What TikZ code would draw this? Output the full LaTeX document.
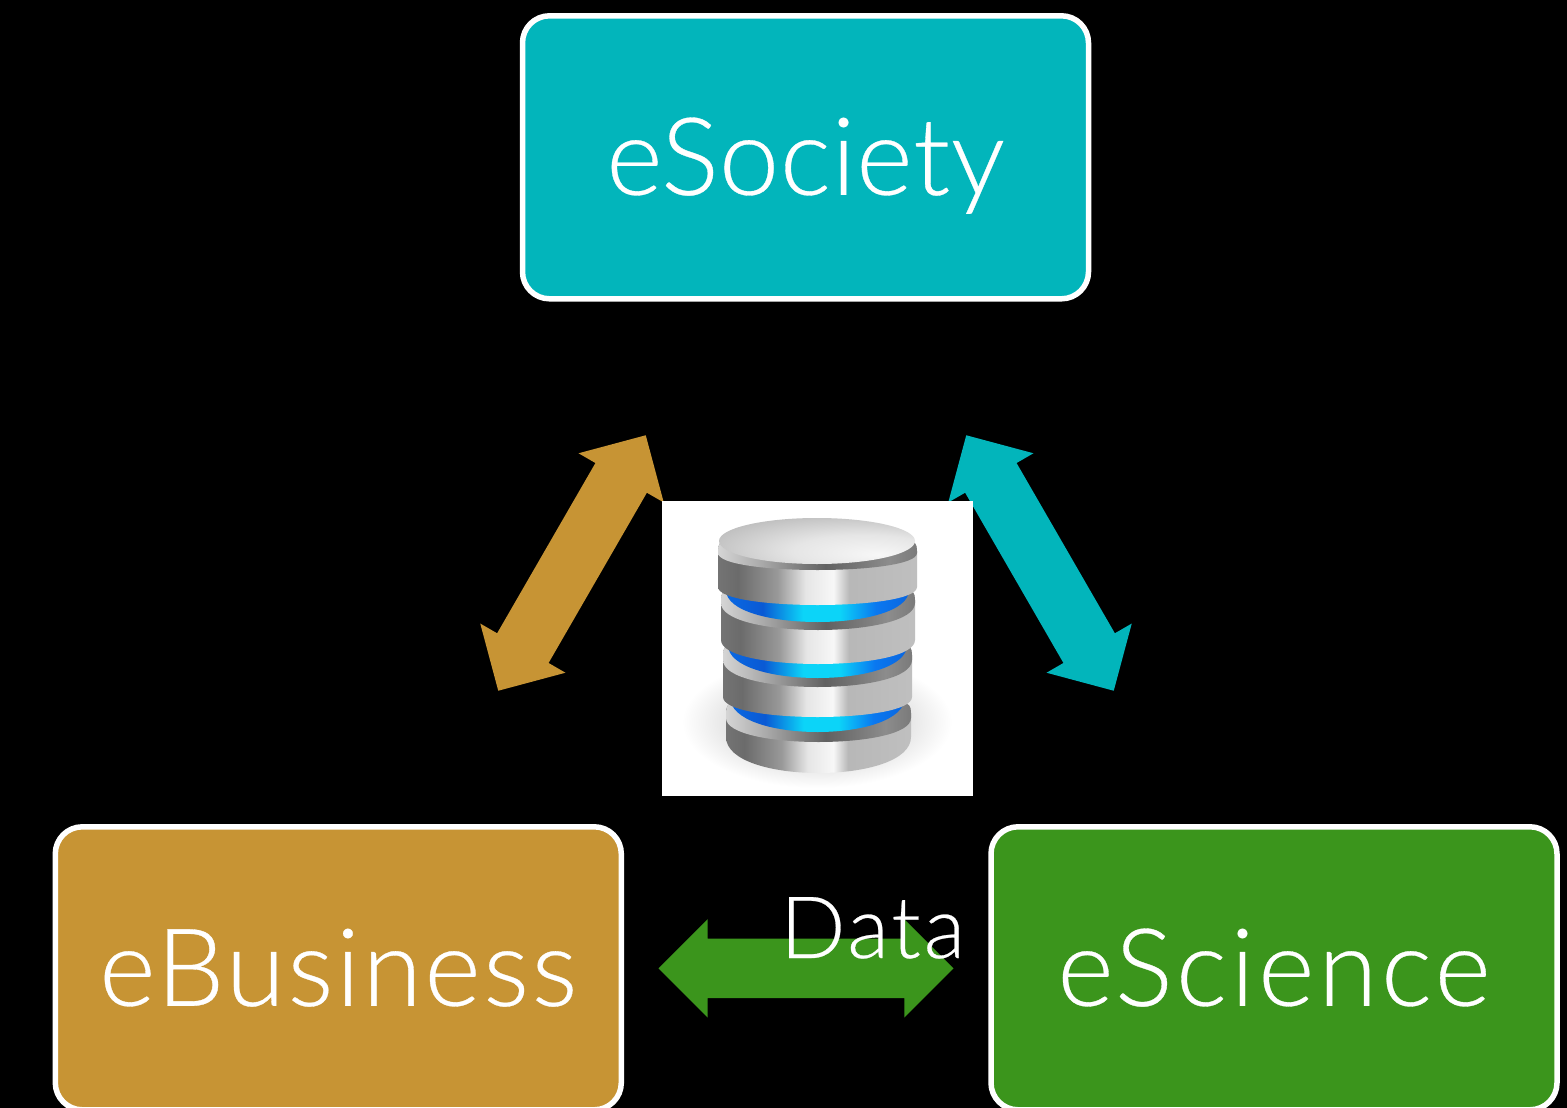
\documentclass[tikz,border=0pt]{standalone}
\usepackage{fontspec}
\setmainfont{Lato}[UprightFont=* Light,FakeBold=0.3]
\usetikzlibrary{shapes.arrows}
\definecolor{cteal}{HTML}{02B5BB}
\definecolor{cgold}{HTML}{C79434}
\definecolor{cgreen}{HTML}{3B951C}
\definecolor{ringdark}{HTML}{0A4CC8}
\definecolor{ringmid}{HTML}{0A78F0}
\definecolor{ringglow}{HTML}{0CD4F8}
\pgfdeclarehorizontalshading{metal}{100bp}{
  color(0bp)=(black!35); color(5bp)=(black!42); color(18bp)=(black!50); color(30bp)=(black!58);
  color(40bp)=(black!40); color(47bp)=(black!10); color(54bp)=(black!3); color(58bp)=(black!28);
  color(75bp)=(black!25); color(88bp)=(black!45); color(96bp)=(black!68); color(100bp)=(black!55)}
\pgfdeclarehorizontalshading{rimmetal}{100bp}{
  color(0bp)=(black!45); color(8bp)=(black!25); color(22bp)=(black!12); color(35bp)=(black!32);
  color(52bp)=(black!62); color(68bp)=(black!45); color(85bp)=(black!62); color(100bp)=(black!75)}
\pgfdeclarehorizontalshading{bluering}{100bp}{
  color(0bp)=(ringdark); color(15bp)=(ringmid); color(35bp)=(ringdark!70!ringmid);
  color(46bp)=(ringglow); color(56bp)=(ringglow); color(66bp)=(ringmid); color(88bp)=(ringdark); color(100bp)=(ringdark!80!black)}
\pgfdeclareradialshading{discglow}{\pgfpoint{16bp}{-15bp}}{
  color(0bp)=(black!3); color(18bp)=(black!10); color(40bp)=(black!28); color(70bp)=(black!40)}
% one slab: xl xr ytop yside depth, top corners rounded, lower edge a half ellipse
\newcommand{\dbslab}[6]{%
  \shade[shading=#1] ({#2+9},#4) .. controls ({#2+2},#4) and (#2,{#4+3}) .. (#2,{#4+10}) -- (#2,#5)
    .. controls (#2,{#5+4/3*#6}) and (#3,{#5+4/3*#6}) .. (#3,#5) -- (#3,{#4+10})
    .. controls (#3,{#4+3}) and ({#3-2},#4) .. ({#3-9},#4) -- cycle;
}
% xl xr ytop yrimside rimdepth ysidebottom bottomdepth
\newcommand{\dbdisc}[7]{%
  \dbslab{metal}{#1}{#2}{#3}{#6}{#7}
  \dbslab{rimmetal}{#1}{#2}{#3}{#4}{#5}
}
% xl xr ytop ybottom depth
\newcommand{\dbring}[5]{%
  \shade[shading=bluering] (#1,#3) -- (#1,#4) .. controls (#1,{#4+4/3*#5}) and (#2,{#4+4/3*#5}) .. (#2,#4) -- (#2,#3) -- cycle;
}
\tikzset{
  areabox/.style={draw=white,line width=5.5pt,rounded corners=27pt,minimum width=566pt,minimum height=283pt,
    inner sep=0pt,text=white,font=\fontsize{108}{108}\selectfont,text height=75pt,text depth=0pt},
  blockarrow/.style={shape=double arrow,draw=none,inner sep=0pt,outer sep=0pt,text height=59pt,text depth=0pt,
    minimum height=295pt,double arrow head extend=19.5pt,double arrow head indent=0pt},
}
\begin{document}
\begin{tikzpicture}[x=1pt,y=-1pt]
\useasboundingbox (0,0) rectangle (1567,1108);
\fill[black] (0,0) rectangle (1567,1108);
\node[blockarrow,fill=cgold,rotate=60] (goldarrow) at (572,563) {};
\node[blockarrow,fill=cteal,rotate=-60] (tealarrow) at (1040,563) {};
\node[blockarrow,fill=cgreen] (greenarrow) at (806,968.3) {};
\node[areabox,fill=cteal] (esociety) at (805.5,157.3) {\addfontfeature{LetterSpace=0.6}eSociety};
\node[areabox,fill=cgold] (ebusiness) at (338.3,968.3) {\addfontfeature{LetterSpace=2.3}eBusiness};
\node[areabox,fill=cgreen] (escience) at (1274,968.3) {\addfontfeature{LetterSpace=3.3}eScience};
\node[anchor=base west,text=white,inner sep=0pt,font=\fontsize{86}{86}\selectfont] (data) at (780,958) {\addfontfeature{LetterSpace=3.4}Data};
% database picture
\fill[white] (662,501) rectangle (973,796);
\shade[inner color=black!30,outer color=white] (817,722) ellipse [x radius=135,y radius=66];
\dbdisc{726}{911}{703}{718}{24}{737}{36}
\dbring{730}{905}{690}{697}{35}
\dbdisc{723}{912}{645}{660}{27}{697}{20}
\dbring{728}{907}{635}{645}{33}
\dbdisc{721}{915}{590}{603}{27}{640}{24}
\dbring{726}{909}{580}{590}{32}
\dbdisc{718}{917}{541}{553}{17}{587}{18}
\shade[shading=discglow] (817,541) ellipse [x radius=98,y radius=23];
\end{tikzpicture}
\end{document}
